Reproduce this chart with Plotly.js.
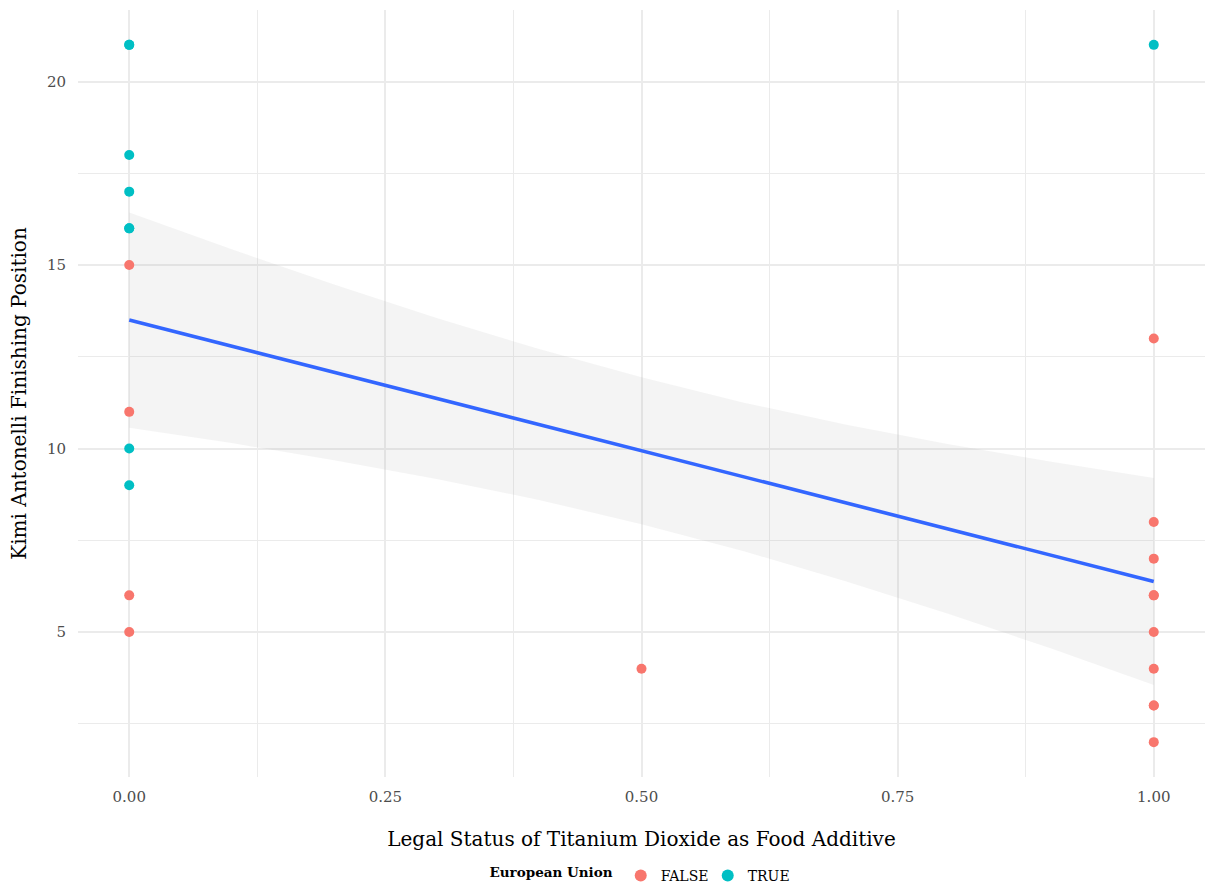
<!DOCTYPE html>
<html>
<head>
<meta charset="utf-8">
<script src="https://cdn.plot.ly/plotly-3.0.1.min.js"></script>
<style>
html,body{margin:0;padding:0;background:#fff;}
#chart{width:1208px;height:888px;}
</style>
</head>
<body>
<div id="chart"></div>
<script>
// ---- data ----
const legalStatus = [0,0,0,0,0,0,0,0,0,0,0,0, 0.5, 1,1,1,1,1,1,1,1,1,1,1];
const finishPosition = [21,21,18,17,16,16,10,9,15,11,6,5, 4, 21,13,8,7,6,6,5,4,3,3,2];
const europeanUnion = ['TRUE','TRUE','TRUE','TRUE','TRUE','TRUE','TRUE','TRUE','FALSE','FALSE','FALSE','FALSE',
  'FALSE', 'TRUE','FALSE','FALSE','FALSE','FALSE','FALSE','FALSE','FALSE','FALSE','FALSE','FALSE'];
const groups = ['FALSE','TRUE'];
const groupColors = ['#F8766D','#00BFC4'];

// linear smooth with 95% band
const fitX     = [0, 0.1, 0.2, 0.3, 0.4, 0.5, 0.6, 0.7, 0.8, 0.9, 1.0];
const fitY     = [13.50, 12.79, 12.08, 11.36, 10.65, 9.94, 9.23, 8.52, 7.80, 7.09, 6.38];
const fitUpper = [16.43, 15.43, 14.47, 13.56, 12.71, 11.94, 11.25, 10.65, 10.12, 9.64, 9.20];
const fitLower = [10.57, 10.15, 9.68, 9.17, 8.60, 7.94, 7.20, 6.38, 5.49, 4.55, 3.56];

const xTicks = [0, 0.25, 0.5, 0.75, 1];
const xTickLabels = ['0.00','0.25','0.50','0.75','1.00'];
const yTicks = [5, 10, 15, 20];

const FONT = '"DejaVu Serif", "Liberation Serif", serif';

const traces = [];
traces.push({
  x: fitX.concat(fitX.slice().reverse()),
  y: fitUpper.concat(fitLower.slice().reverse()),
  type: 'scatter', mode: 'lines', fill: 'toself',
  fillcolor: 'rgba(153,153,153,0.11)',
  line: {width: 0},
  hoverinfo: 'skip', showlegend: false
});
groups.forEach((g, gi) => {
  const xs = [], ys = [];
  legalStatus.forEach((v, i) => { if (europeanUnion[i] === g) { xs.push(v); ys.push(finishPosition[i]); } });
  traces.push({
    x: xs, y: ys, type: 'scatter', mode: 'markers', name: g,
    marker: {color: groupColors[gi], size: 10, line: {width: 0}}
  });
});
traces.push({
  x: fitX, y: fitY, type: 'scatter', mode: 'lines',
  line: {color: '#3366FF', width: 3.6}, showlegend: false, hoverinfo: 'skip'
});

const layout = {
  width: 1208, height: 888,
  margin: {l: 78, r: 3, t: 10, b: 111, pad: 0, autoexpand: false},
  paper_bgcolor: '#ffffff', plot_bgcolor: '#ffffff',
  font: {family: FONT, color: '#000'},
  showlegend: true,
  xaxis: {
    range: [-0.05, 1.05], tickvals: xTicks, ticktext: xTickLabels,
    showgrid: true, gridcolor: '#ebebeb', gridwidth: 2,
    minor: {dtick: 0.125, tick0: 0.125, showgrid: true, gridcolor: '#ebebeb', gridwidth: 1},
    zeroline: false, showline: false, ticks: '',
    tickfont: {family: FONT, size: 15, color: '#4d4d4d'},
    ticklabelstandoff: 9,
    automargin: false,
    title: {text: 'Legal Status of Titanium Dioxide as Food Additive', font: {family: FONT, size: 20, color: '#000'}, standoff: 26}
  },
  yaxis: {
    range: [1.05, 21.95], tickvals: yTicks,
    showgrid: true, gridcolor: '#ebebeb', gridwidth: 2,
    minor: {tickvals: [2.5, 7.5, 12.5, 17.5], showgrid: true, gridcolor: '#ebebeb', gridwidth: 1},
    zeroline: false, showline: false, ticks: '',
    tickfont: {family: FONT, size: 15, color: '#4d4d4d'},
    ticklabelstandoff: 11,
    automargin: false,
    title: {text: 'Kimi Antonelli Finishing Position', font: {family: FONT, size: 20, color: '#000'}, standoff: 14}
  },
  legend: {
    orientation: 'h', x: 0.5, xanchor: 'center', y: -0.129, yanchor: 'middle',
    font: {family: FONT, size: 14, color: '#000'},
    title: {text: '<b>European Union</b>', side: 'left', font: {family: FONT, size: 13.5, color: '#000'}},
    itemsizing: 'constant', itemwidth: 30, entrywidth: 42, bgcolor: 'rgba(0,0,0,0)'
  }
};

Plotly.newPlot('chart', traces, layout, {displayModeBar: false, responsive: false});
</script>
</body>
</html>
